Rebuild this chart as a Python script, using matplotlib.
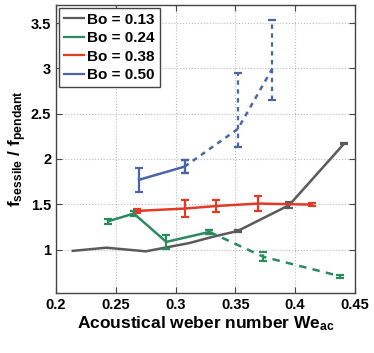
import matplotlib
matplotlib.use("Agg")
import matplotlib.pyplot as plt
from matplotlib.lines import Line2D

plt.rcParams['font.family'] = ['Liberation Sans', 'DejaVu Sans']
plt.rcParams['font.weight'] = 'bold'
plt.rcParams['mathtext.fontset'] = 'custom'
plt.rcParams['mathtext.rm'] = 'Liberation Sans:bold'
plt.rcParams['mathtext.bf'] = 'Liberation Sans:bold'
plt.rcParams['mathtext.it'] = 'Liberation Sans:bold'

# Bo = 0.13 (gris)
x_013 = [0.214, 0.242, 0.275, 0.311, 0.331, 0.352, 0.395, 0.441]
y_013 = [0.985, 1.02, 0.98, 1.07, 1.14, 1.205, 1.49, 2.17]
xe_013 = [0.352, 0.395, 0.441]
ye_013 = [1.205, 1.49, 2.17]
ee_013 = [0.015, 0.03, 0.01]

# Bo = 0.24 (verde), parte solida e tracejada
x_024 = [0.2436, 0.265, 0.2922, 0.3283]
y_024 = [1.312, 1.397, 1.084, 1.194]
e_024 = [0.025, 0.03, 0.08, 0.02]
x_024d = [0.3283, 0.3733, 0.4375]
y_024d = [1.194, 0.92, 0.706]
e_024d = [0.02, 0.05, 0.015]

# Bo = 0.38 (vermelho)
x_038 = [0.2678, 0.3075, 0.3339, 0.3686, 0.414]
y_038 = [1.426, 1.452, 1.48, 1.507, 1.496]
e_038 = [0.02, 0.09, 0.066, 0.08, 0.015]

# Bo = 0.50 (azul)
x_050 = [0.2694, 0.3075]
y_050 = [1.77, 1.915]
e_050 = [0.135, 0.075]
x_050d = [0.3075, 0.352, 0.381]
y_050d = [1.915, 2.33, 3.0]
elo_050d = [0.075, 0.2, 0.346]
ehi_050d = [0.075, 0.62, 0.536]

labels = ['Bo = 0.13', 'Bo = 0.24', 'Bo = 0.38', 'Bo = 0.50']
c_gray = '#5a5a5a'
c_green = '#2a8a60'
c_red = '#e23a24'
c_blue = '#4a66a8'

fig = plt.figure(figsize=(3.74, 3.53), dpi=100)
ax = fig.add_axes([0.15, 0.17, 0.799, 0.816])

lw = 1.8
eb = dict(capsize=3, elinewidth=1.6, capthick=1.6)

ax.plot(x_013, y_013, color=c_gray, lw=lw)
ax.errorbar(xe_013, ye_013, yerr=ee_013, fmt='none', ecolor=c_gray, **eb)

ax.errorbar(x_024, y_024, yerr=e_024, color=c_green, lw=lw, **eb)
l = ax.errorbar(x_024d, y_024d, yerr=e_024d, color=c_green, lw=lw, ls=(0, (3, 2.5)), **eb)
l[2][0].set_linestyle((0, (3, 2.5)))

ax.errorbar(x_038, y_038, yerr=e_038, color=c_red, lw=lw, **eb)

ax.errorbar(x_050, y_050, yerr=e_050, color=c_blue, lw=lw, **eb)
l = ax.errorbar(x_050d, y_050d, yerr=[elo_050d, ehi_050d], color=c_blue, lw=lw,
                ls=(0, (2, 2)), **eb)
l[2][0].set_linestyle((0, (2, 2)))

ax.set_xlim(0.2, 0.45)
ax.set_ylim(0.52, 3.7)
ax.set_xticks([0.2, 0.25, 0.3, 0.35, 0.4, 0.45])
ax.set_xticklabels(['0.2', '0.25', '0.3', '0.35', '0.4', '0.45'])
ax.set_yticks([1, 1.5, 2, 2.5, 3, 3.5])
ax.set_yticklabels(['1', '1.5', '2', '2.5', '3', '3.5'])
ax.tick_params(direction='in', top=True, right=True, labelsize=10.5, length=4,
               color='#444444')
for s in ax.spines.values():
    s.set_color('#444444')
    s.set_linewidth(1.0)
ax.grid(True, ls=':', color='#bbbbbb', lw=0.8)

ax.set_xlabel(r'Acoustical weber number We$_{\mathrm{ac}}$', fontsize=12.5, fontweight='bold',
              labelpad=2)
ax.set_ylabel(r'f$_{\mathrm{sessile}}$ / f$_{\mathrm{pendant}}$', fontsize=12.5, fontweight='bold',
              labelpad=1)

handles = [Line2D([], [], color=c, lw=1.6) for c in [c_gray, c_green, c_red, c_blue]]
leg = ax.legend(handles, labels, loc='upper left', handlelength=1.3, handletextpad=0.25,
                labelspacing=0.3, borderpad=0.3, fancybox=False, framealpha=1,
                borderaxespad=0.2, prop={'weight': 'bold', 'size': 11})
leg.get_frame().set_edgecolor('#444444')
leg.get_frame().set_linewidth(1.0)

fig.savefig('out.png', dpi=100)
